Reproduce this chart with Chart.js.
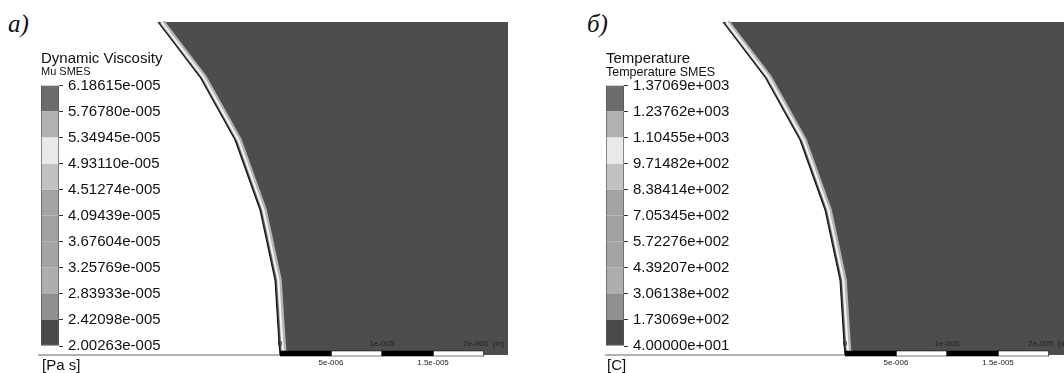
<!DOCTYPE html>
<html><head><meta charset="utf-8">
<script src="https://cdn.jsdelivr.net/npm/chart.js@4.4.1/dist/chart.umd.min.js"></script>
<style>
html,body{margin:0;padding:0;background:#fff;width:1064px;height:373px;overflow:hidden;position:relative;}
canvas{position:absolute;}
.lbl{position:absolute;font-family:"Liberation Serif","DejaVu Serif",serif;font-style:italic;font-size:25px;color:#111;line-height:1;}
.unit{position:absolute;font-family:"Liberation Sans",Arial,sans-serif;font-size:15px;color:#111;line-height:15px;white-space:pre;}
</style></head><body>
<div class="lbl" style="left:8px;top:11px">а)</div>
<div class="lbl" style="left:587px;top:11px">б)</div>
<canvas id="dom1" width="470" height="350" style="left:38px;top:12px"></canvas>
<canvas id="dom2" width="459" height="350" style="left:605px;top:12px"></canvas>
<canvas id="cb1" width="148" height="311" style="left:41px;top:49px"></canvas>
<canvas id="cb2" width="148" height="311" style="left:606px;top:49px"></canvas>
<canvas id="sb1" width="284" height="33" style="left:240px;top:337px"></canvas>
<canvas id="sb2" width="284" height="33" style="left:805px;top:337px"></canvas>
<div class="unit" id="u1" style="left:42px;top:357px"></div>
<div class="unit" id="u2" style="left:607px;top:357px"></div>
<script>
// ---- data ----
// outer boundary of the domain (micrometres), from top to the symmetry axis
const profileX = [-11.96, -7.84, -4.41, -1.96, -0.49, -0.10, 0.0];
const profileY = [32.65, 27.25, 21.08, 14.22, 7.35, 1.18, 0.0];
const domainTop = 32.65;

// legend (contour levels), top to bottom
const viscosityLabels = ['6.18615e-005','5.76780e-005','5.34945e-005','4.93110e-005','4.51274e-005','4.09439e-005','3.67604e-005','3.25769e-005','2.83933e-005','2.42098e-005','2.00263e-005'];
const temperatureLabels = ['1.37069e+003','1.23762e+003','1.10455e+003','9.71482e+002','8.38414e+002','7.05345e+002','5.72276e+002','4.39207e+002','3.06138e+002','1.73069e+002','4.00000e+001'];
const viscosityUnit = '[Pa s]';
const temperatureUnit = '[C]';
// band shades from lowest to highest level
const bandShades = ['#4a4a4a','#8f8f8f','#aeaeae','#a4a4a4','#a1a1a1','#a4a4a4','#c2c2c2','#e9e9e9','#b1b1b1','#6c6c6c'];

// scale bar (micrometres)
const scaleSegments = [5, 5, 5, 5];
const scaleTopValues = [0, 10, 20];
const scaleTopLabels = ['0', '1e-005', '2e-005  (m)'];
const scaleBottomValues = [5, 15];
const scaleBottomLabels = ['5e-006', '1.5e-005'];

Chart.defaults.font.family = '"Liberation Sans", Arial, sans-serif';
Chart.defaults.color = '#111';

const PX = 10.2; // pixels per micrometre

function domain(id, leftPx, axisXPx, widthPx) {
  const xmin = (leftPx - axisXPx) / PX;
  const xmax = (leftPx + widthPx - axisXPx) / PX;
  const ymax = (355 - 12) / PX;
  const ymin = (355 - 362) / PX;
  const outline = profileX.map((x, i) => ({x: x, y: profileY[i]}));
  const fillPts = outline.concat([{x: xmax + 2, y: 0}]);
  const shifted = (d) => profileX.map((x, i) => ({x: x + d, y: profileY[i]}));
  new Chart(document.getElementById(id), {
    type: 'line',
    data: {datasets: [
      {data: outline, borderColor: '#111', borderWidth: 1.1, pointRadius: 0, fill: false, order: 0},
      {data: shifted(0.33), borderColor: '#f2f2f2', borderWidth: 2, pointRadius: 0, fill: false, order: 1},
      {data: shifted(0.42), borderColor: '#b5b5b5', borderWidth: 5, pointRadius: 0, fill: false, order: 2},
      {data: fillPts, borderColor: 'rgba(0,0,0,0)', borderWidth: 0, pointRadius: 0, backgroundColor: '#4d4d4d', fill: {value: domainTop}, order: 3},
      {data: [{x: xmin - 1, y: 0}, {x: 0, y: 0}], borderColor: '#9a9a9a', borderWidth: 1.5, pointRadius: 0, fill: false, order: 4}
    ]},
    options: {
      responsive: false, animation: false, events: [],
      layout: {padding: 0},
      plugins: {legend: {display: false}, tooltip: {enabled: false}},
      elements: {line: {tension: 0}},
      scales: {
        x: {type: 'linear', min: xmin, max: xmax, display: false},
        y: {type: 'linear', min: ymin, max: ymax, display: false}
      }
    }
  });
}

function colorbar(id, labels, title, subtitle, subSize) {
  new Chart(document.getElementById(id), {
    type: 'bar',
    data: {labels: [''], datasets: bandShades.map((c, i) => ({
      data: [1], backgroundColor: c, borderColor: '#555',
      borderWidth: {left: 1, right: 1, top: i === bandShades.length - 1 ? 1 : 0, bottom: i === 0 ? 1 : 0},
      borderSkipped: false, barPercentage: 1, categoryPercentage: 1
    }))},
    options: {
      responsive: false, animation: false, events: [],
      layout: {padding: {left: 0, right: 0, top: 0, bottom: 10}},
      plugins: {
        legend: {display: false}, tooltip: {enabled: false},
        title: {display: true, text: title, align: 'start', color: '#111', font: {size: 15, weight: 'normal', lineHeight: 1}, padding: {top: 2, bottom: 0}},
        subtitle: {display: true, text: subtitle, align: 'start', color: '#111', font: {size: subSize, lineHeight: 1}, padding: {top: 0, bottom: 19.5 - subSize}}
      },
      scales: {
        x: {stacked: true, display: false},
        y: {stacked: true, position: 'right', min: 0, max: 10,
            afterFit: (s) => { s.width = 130; },
            border: {display: false},
            grid: {drawOnChartArea: false, drawTicks: true, tickLength: 4, color: '#333'},
            ticks: {stepSize: 1, autoSkip: false, padding: 5, color: '#111', font: {size: 15},
                    callback: (v) => labels[Math.round(10 - v)]}}
      }
    }
  });
}

function scalebar(id) {
  const tickAxis = (pos, vals, labs) => ({
    type: 'linear', position: pos, min: 0, max: 20, stacked: true,
    grid: {display: false, drawTicks: false}, border: {display: false},
    afterBuildTicks: (s) => { s.ticks = vals.map(v => ({value: v})); },
    ticks: {autoSkip: false, maxRotation: 0, padding: 2, color: '#222', font: {size: 8},
            callback: (v, i) => labs[i]}
  });
  new Chart(document.getElementById(id), {
    type: 'bar',
    data: {labels: [''], datasets: scaleSegments.map((v, i) => ({
      data: [v], xAxisID: 'x', backgroundColor: i % 2 ? '#ffffff' : '#000000', borderColor: '#000',
      borderWidth: 1, borderSkipped: false, barPercentage: 1, categoryPercentage: 1
    }))},
    options: {
      indexAxis: 'y', responsive: false, animation: false, events: [],
      layout: {padding: {left: 40, right: 40, top: 0, bottom: 0}},
      plugins: {legend: {display: false}, tooltip: {enabled: false}},
      scales: {
        y: {stacked: true, display: false},
        x: tickAxis('top', scaleTopValues, scaleTopLabels),
        x2: tickAxis('bottom', scaleBottomValues, scaleBottomLabels)
      }
    }
  });
}

document.getElementById('u1').textContent = viscosityUnit;
document.getElementById('u2').textContent = temperatureUnit;
domain('dom1', 38, 280, 470);
domain('dom2', 605, 845, 459);
colorbar('cb1', viscosityLabels, 'Dynamic Viscosity', 'Mu SMES', 11);
colorbar('cb2', temperatureLabels, 'Temperature', 'Temperature SMES', 12.5);
scalebar('sb1');
scalebar('sb2');
</script>
</body></html>
